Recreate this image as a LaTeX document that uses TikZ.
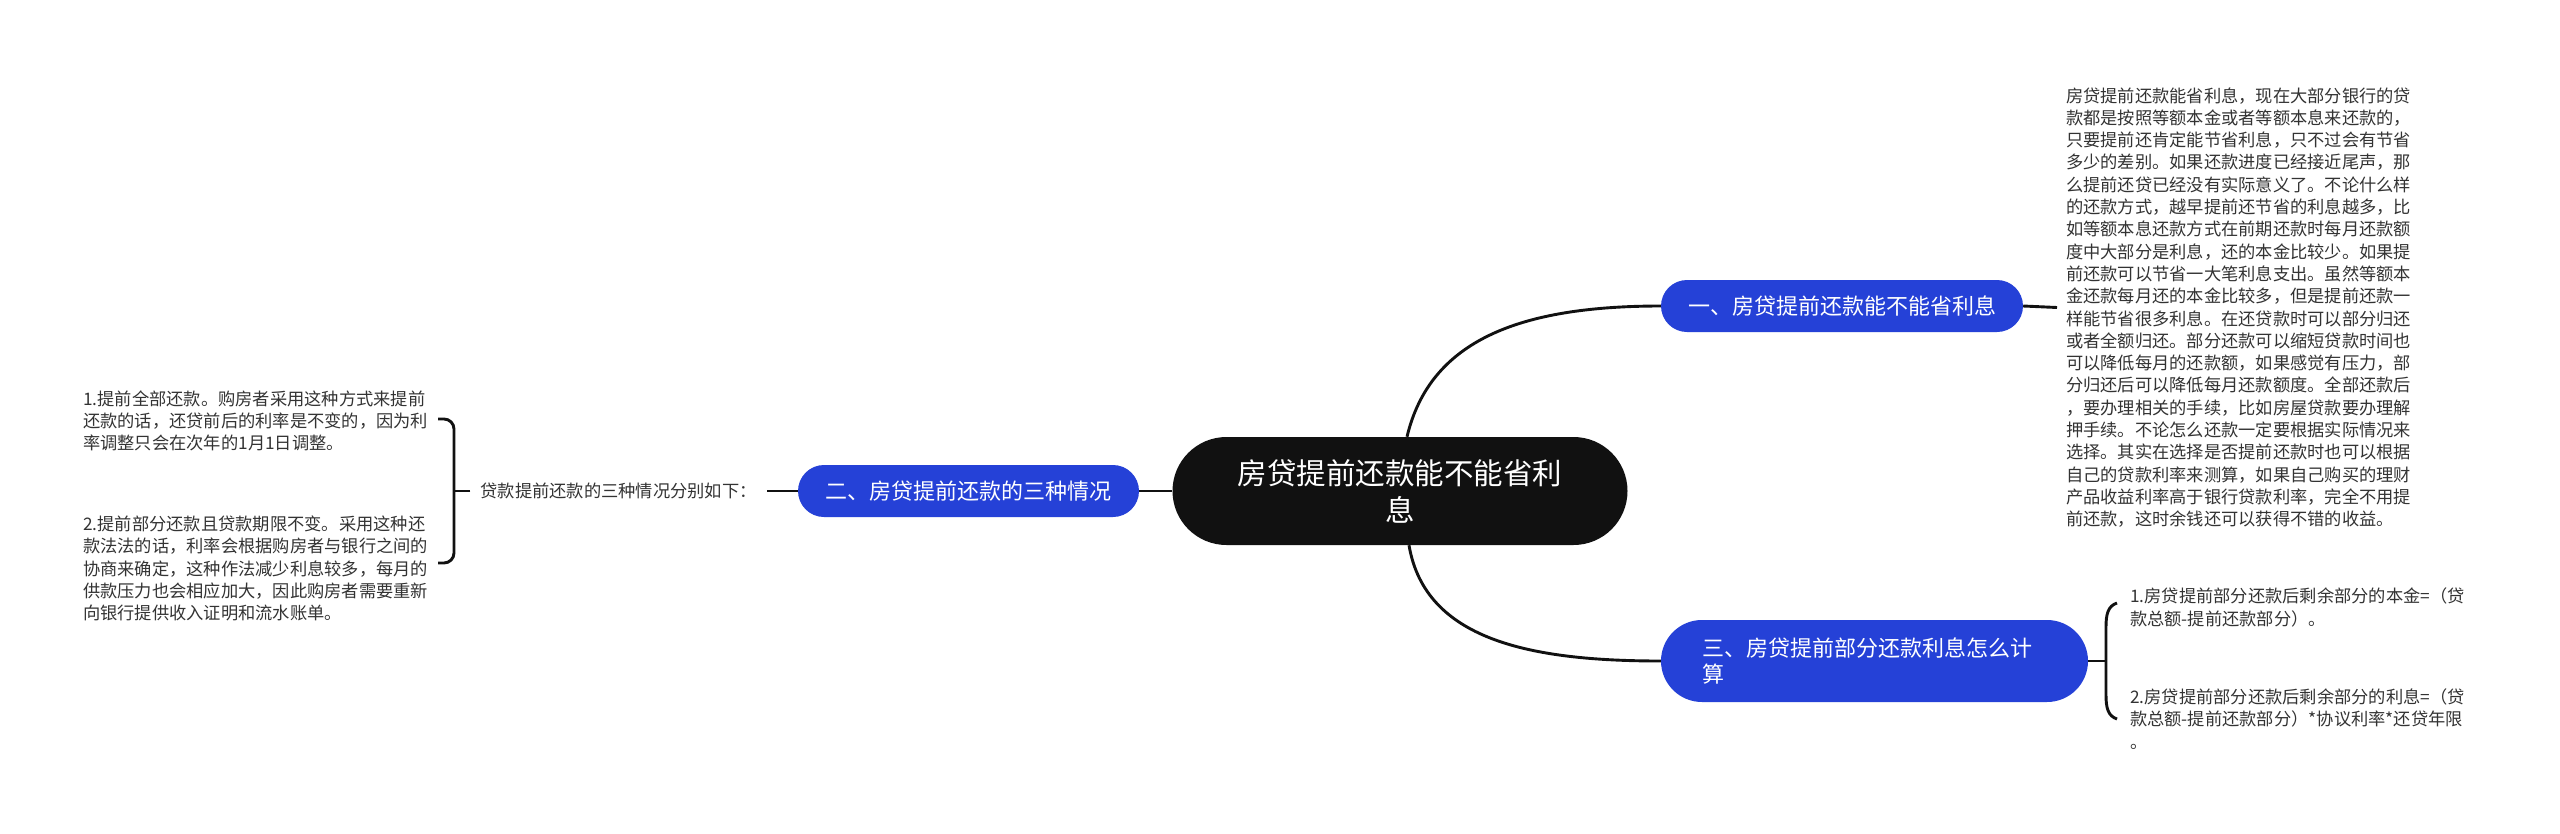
\documentclass[tikz,border=0pt]{standalone}
\usepackage{fontspec}
\setmainfont{Noto Sans CJK SC}
\definecolor{bblue}{HTML}{2541D7}
\definecolor{rootblack}{HTML}{111111}
\definecolor{txtgrey}{HTML}{333333}
\definecolor{lineblack}{HTML}{111111}
\begin{document}
\begin{tikzpicture}[x=1pt,y=-1pt,
  conn/.style={draw=lineblack, line width=2.9pt},
  branch/.style={fill=bblue, text=white, inner sep=0pt, font=\fontsize{22}{26.4}\selectfont, rounded corners=26pt, minimum height=52pt},
  body/.style={text=txtgrey, inner sep=0pt, align=left, font=\fontsize{17.25}{22.3}\selectfont},
  ]
\useasboundingbox[fill=white] (0,0) rectangle (2560,833);

% root
\node[fill=rootblack, text=white, rounded corners=54pt, minimum width=455pt, minimum height=108pt,
      inner sep=0pt, align=center, font=\fontsize{29.5}{37}\selectfont] (root) at (1400,491)
  {房贷提前还款能不能省利\\息};

% branches
\node[branch, minimum width=362pt] (b1) at (1842,306) {一、房贷提前还款能不能省利息};
\node[branch, minimum width=341pt] (b2) at (968.5,491) {二、房贷提前还款的三种情况};
\node[branch, minimum width=427pt, minimum height=82pt, rounded corners=41pt,
      text width=345pt, align=left] (b3) at (1874.5,661) {三、房贷提前部分还款利息怎么计\\算};

% label on left branch
\node[body, inner xsep=10pt] (lab) at (618.5,491) {贷款提前还款的三种情况分别如下：};

% right top text
\node[body, anchor=west, inner xsep=9pt] (rt) at (2057,307.5) {房贷提前还款能省利息，现在大部分银行的贷\\
款都是按照等额本金或者等额本息来还款的，\\
只要提前还肯定能节省利息，只不过会有节省\\
多少的差别。如果还款进度已经接近尾声，那\\
么提前还贷已经没有实际意义了。不论什么样\\
的还款方式，越早提前还节省的利息越多，比\\
如等额本息还款方式在前期还款时每月还款额\\
度中大部分是利息，还的本金比较少。如果提\\
前还款可以节省一大笔利息支出。虽然等额本\\
金还款每月还的本金比较多，但是提前还款一\\
样能节省很多利息。在还贷款时可以部分归还\\
或者全额归还。部分还款可以缩短贷款时间也\\
可以降低每月的还款额，如果感觉有压力，部\\
分归还后可以降低每月还款额度。全部还款后\\
，要办理相关的手续，比如房屋贷款要办理解\\
押手续。不论怎么还款一定要根据实际情况来\\
选择。其实在选择是否提前还款时也可以根据\\
自己的贷款利率来测算，如果自己购买的理财\\
产品收益利率高于银行贷款利率，完全不用提\\
前还款，这时余钱还可以获得不错的收益。};

% left texts
\node[body, anchor=west] (lp1) at (83,421) {1.提前全部还款。购房者采用这种方式来提前\\
还款的话，还贷前后的利率是不变的，因为利\\
率调整只会在次年的1月1日调整。};
\node[body, anchor=west] (lp2) at (83,568.5) {2.提前部分还款且贷款期限不变。采用这种还\\
款法法的话，利率会根据购房者与银行之间的\\
协商来确定，这种作法减少利息较多，每月的\\
供款压力也会相应加大，因此购房者需要重新\\
向银行提供收入证明和流水账单。};

% bottom right texts
\node[body, anchor=west] (rp1) at (2130,607.5) {1.房贷提前部分还款后剩余部分的本金=（贷\\
款总额-提前还款部分）。};
\node[body, anchor=west] (rp2) at (2130,719) {2.房贷提前部分还款后剩余部分的利息=（贷\\
款总额-提前还款部分）*协议利率*还贷年限\\
。};

% connectors
\draw[conn] (root.west) -- (b2.east);
\draw[conn] ([xshift=7pt]root.north) .. controls (1430,340) and (1520,306) .. (b1.west);
\draw[conn] ([xshift=9pt]root.south) .. controls (1425,640) and (1530,661) .. (b3.west);
\draw[conn] (b1.east) -- (rt.west);
\draw[conn] (b2.west) -- (lab.east);

% left bracket
\coordinate (lbr) at (454,491);
\draw[conn] (lab.west) -- (lbr);
\draw[conn, rounded corners=10pt] (438,419) -- (454,419) -- (454,563) -- (438,563);

% right bracket
\coordinate (rbr) at (2106,661);
\draw[conn] (b3.east) -- (rbr);
\draw[conn] (2117,603) .. controls (2108,606) and (2106,614) .. (2106,627) -- (2106,695)
   .. controls (2106,708) and (2108,716) .. (2117,719);
\end{tikzpicture}
\end{document}
